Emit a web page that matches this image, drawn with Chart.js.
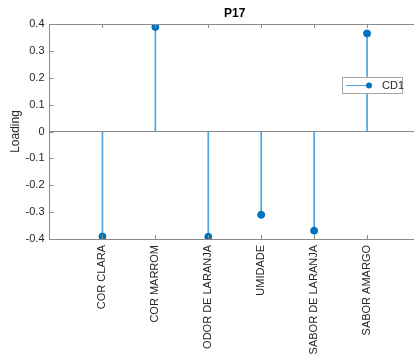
<!DOCTYPE html>
<html>
<head>
<meta charset="utf-8">
<script src="https://cdn.jsdelivr.net/npm/chart.js@4"></script>
<style>
  html, body { margin: 0; padding: 0; background: #fff; overflow: hidden; }
  #wrap { width: 440px; height: 356px; }
</style>
</head>
<body>
<div id="wrap"><canvas id="chartP17" width="440" height="356"></canvas></div>
<script>
// loadings P17
const categories = ['COR CLARA', 'COR MARROM', 'ODOR DE LARANJA', 'UMIDADE', 'SABOR DE LARANJA', 'SABOR AMARGO'];
const cd1 = [-0.391, 0.389, -0.392, -0.310, -0.369, 0.365];
const yTicks = [-0.4, -0.3, -0.2, -0.1, 0, 0.1, 0.2, 0.3, 0.4];

const azul = '#0072BD';
const haste = '#4da3e0';
const eixo = '#8a8a8a';
const texto = '#262626';
const fonte = '"Liberation Sans", Arial, sans-serif';

const pts = cd1.map((v, i) => ({ x: i + 1, y: v }));

// eixo em caixa + ticks internos + titulo + legenda
const caixa = {
  id: 'caixa',
  afterDraw(chart) {
    const { ctx, chartArea: a, scales } = chart;
    ctx.save();
    ctx.strokeStyle = eixo;
    ctx.lineWidth = 1;
    ctx.beginPath();
    ctx.moveTo(a.left, a.top + 0.5); ctx.lineTo(a.right, a.top + 0.5);
    ctx.stroke();
    // ticks para dentro
    ctx.beginPath();
    for (let i = 1; i <= categories.length; i++) {
      const x = Math.floor(scales.x.getPixelForValue(i)) + 0.5;
      ctx.moveTo(x, a.bottom); ctx.lineTo(x, a.bottom - 4);
      ctx.moveTo(x, a.top); ctx.lineTo(x, a.top + 4);
    }
    yTicks.forEach(v => {
      const y = Math.round(scales.y.getPixelForValue(v)) + 0.5;
      ctx.moveTo(a.left, y); ctx.lineTo(a.left + 4, y);
    });
    ctx.stroke();

    // titulo
    ctx.fillStyle = '#000';
    ctx.font = 'bold 12px ' + fonte;
    ctx.textAlign = 'center';
    ctx.textBaseline = 'middle';
    ctx.fillText('P17', (a.left + a.right) / 2, 14);

    // legenda
    const lx = 342, ly = 77, lw = 60, lh = 16;
    ctx.fillStyle = '#fff';
    ctx.fillRect(lx, ly, lw, lh);
    ctx.strokeStyle = '#a6a6a6';
    ctx.strokeRect(lx + 0.5, ly + 0.5, lw, lh);
    ctx.strokeStyle = haste;
    ctx.beginPath();
    ctx.moveTo(lx + 4, ly + 8.5); ctx.lineTo(lx + 28, ly + 8.5);
    ctx.stroke();
    ctx.fillStyle = azul;
    ctx.beginPath();
    ctx.arc(lx + 27, ly + 8.5, 3, 0, Math.PI * 2);
    ctx.fill();
    ctx.fillStyle = texto;
    ctx.font = '11px ' + fonte;
    ctx.textAlign = 'left';
    ctx.fillText('CD1', lx + 40, ly + 9);
    ctx.restore();
  }
};

new Chart(document.getElementById('chartP17'), {
  data: {
    datasets: [{
      type: 'bar',
      label: 'haste',
      data: pts,
      backgroundColor: haste,
      barThickness: 1,
      order: 2
    }, {
      type: 'scatter',
      label: 'CD1',
      data: pts,
      backgroundColor: azul,
      borderColor: azul,
      pointRadius: 3.5,
      pointHoverRadius: 3.5,
      order: 1
    }]
  },
  options: {
    responsive: false,
    animation: false,
    layout: { padding: { top: 24, right: 20, left: 0.5, bottom: 0 } },
    plugins: {
      legend: { display: false },
      tooltip: { enabled: false }
    },
    scales: {
      x: {
        type: 'linear',
        min: 0,
        max: 7,
        offset: false,
        afterBuildTicks(scale) {
          scale.ticks = categories.map((c, i) => ({ value: i + 1 }));
        },
        afterFit(scale) { scale.height = 117; },
        ticks: {
          autoSkip: false,
          minRotation: 90,
          maxRotation: 90,
          padding: 6,
          color: texto,
          font: { family: fonte, size: 11 },
          callback: (v) => categories[v - 1]
        },
        grid: { display: false, drawTicks: false, offset: false },
        border: { display: true, color: eixo }
      },
      y: {
        min: -0.4,
        max: 0.4,
        afterBuildTicks(scale) {
          scale.ticks = yTicks.map(v => ({ value: v }));
        },
        afterFit(scale) { scale.width = 49; },
        ticks: {
          padding: 5,
          color: texto,
          font: { family: fonte, size: 11 },
          callback: (v) => (Math.round(v * 10) / 10).toString()
        },
        grid: {
          drawTicks: false,
          color: (c) => (c.tick && c.tick.value === 0 ? eixo : 'rgba(0,0,0,0)')
        },
        border: { display: true, color: eixo },
        title: {
          display: true,
          text: 'Loading',
          color: texto,
          font: { family: fonte, size: 12 },
          padding: { top: 8, bottom: 0 }
        }
      }
    }
  },
  plugins: [caixa]
});
</script>
</body>
</html>
